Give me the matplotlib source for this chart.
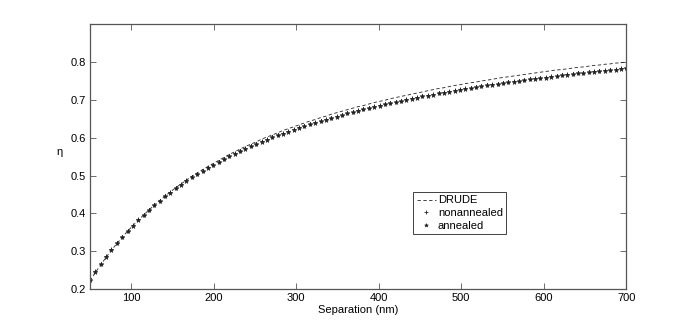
import numpy as np
import matplotlib
matplotlib.use('Agg')
import matplotlib.pyplot as plt

plt.rcParams['font.family'] = ['Liberation Sans', 'DejaVu Sans']

# separation in nm
separation = [50, 56.5, 63, 69.5, 76, 82.5, 89, 95.5, 102, 108.5, 115, 121.5, 128, 134.5,
              141, 147.5, 154, 160.5, 167, 173.5, 180, 186.5, 193, 199.5, 206, 212.5, 219,
              225.5, 232, 238.5, 245, 251.5, 258, 264.5, 271, 277.5, 284, 290.5, 297, 303.5,
              310, 316.5, 323, 329.5, 336, 342.5, 349, 355.5, 362, 368.5, 375, 381.5, 388,
              394.5, 401, 407.5, 414, 420.5, 427, 433.5, 440, 446.5, 453, 459.5, 466, 472.5,
              479, 485.5, 492, 498.5, 505, 511.5, 518, 524.5, 531, 537.5, 544, 550.5, 557,
              563.5, 570, 576.5, 583, 589.5, 596, 602.5, 609, 615.5, 622, 628.5, 635, 641.5,
              648, 654.5, 661, 667.5, 674, 680.5, 687, 693.5, 700]

# eta values, in thousandths
drude = [222, 244, 264, 284, 303, 320, 337, 353, 368, 382, 396, 409, 422, 434, 446, 457, 468,
         478, 488, 498, 507, 516, 524, 532, 540, 548, 556, 563, 570, 577, 583, 589, 596, 602,
         607, 613, 619, 624, 629, 634, 639, 644, 648, 653, 657, 662, 666, 670, 674, 678, 682,
         685, 689, 693, 696, 699, 703, 706, 709, 712, 715, 718, 721, 724, 727, 730, 732, 735,
         738, 740, 743, 745, 747, 750, 752, 754, 757, 759, 761, 763, 765, 767, 769, 771, 773,
         775, 777, 779, 780, 782, 784, 786, 787, 789, 791, 792, 794, 795, 797, 798, 800]

nonannealed = [225, 247, 267, 287, 305, 322, 339, 354, 369, 384, 397, 410, 422, 434, 446, 456,
               467, 477, 487, 496, 505, 513, 522, 529, 537, 545, 552, 559, 565, 572, 578, 584,
               590, 596, 602, 607, 612, 617, 622, 627, 632, 636, 641, 645, 649, 653, 657, 661,
               665, 669, 672, 676, 679, 683, 686, 689, 692, 695, 698, 701, 704, 707, 710, 712,
               715, 718, 720, 723, 725, 728, 730, 732, 735, 737, 739, 741, 743, 745, 747, 749,
               751, 753, 755, 757, 759, 760, 762, 764, 766, 767, 769, 771, 772, 774, 775, 777,
               778, 780, 781, 783, 784]

annealed = [224, 246, 266, 286, 304, 321, 338, 353, 368, 383, 396, 409, 421, 433, 445, 455,
            466, 476, 486, 495, 504, 512, 521, 528, 536, 544, 551, 558, 564, 571, 577, 583,
            589, 595, 601, 606, 611, 616, 621, 626, 631, 635, 640, 644, 648, 652, 656, 660,
            664, 668, 671, 675, 678, 682, 685, 688, 691, 694, 697, 700, 703, 706, 709, 711,
            714, 717, 719, 722, 724, 727, 729, 731, 734, 736, 738, 740, 742, 744, 746, 748,
            750, 752, 754, 756, 758, 759, 761, 763, 765, 766, 768, 770, 771, 773, 774, 776,
            777, 779, 780, 782, 783]

sep = np.array(separation)
fig = plt.figure(figsize=(6.92, 3.26), dpi=100)
ax = fig.add_axes([0.13, 0.113, 0.775, 0.813])

ax.plot(sep, np.array(drude) / 1000, '--', color='#222222', lw=0.6, dashes=(4, 3), label='DRUDE')
ax.plot(sep, np.array(nonannealed) / 1000, '+', color='#222222', ms=3.5, mew=0.6, label='nonannealed')
ax.plot(sep, np.array(annealed) / 1000, '*', color='#222222', ms=3.5, mew=0.4, label='annealed')

ax.set_xlim(50, 700)
ax.set_ylim(0.2, 0.9)
ax.set_xticks([100, 200, 300, 400, 500, 600, 700])
ax.set_yticks([0.2, 0.3, 0.4, 0.5, 0.6, 0.7, 0.8])
ax.tick_params(direction='in', length=4, width=0.6, colors='#555555', labelcolor='k',
               labelsize=8, top=True, right=True, pad=3)
for s in ax.spines.values():
    s.set_color('#555555')
    s.set_linewidth(0.9)

ax.set_xlabel('Separation (nm)', fontsize=8, labelpad=1)
ax.set_ylabel('η', fontsize=8, rotation=0, labelpad=8)

leg = ax.legend(loc='upper left', bbox_to_anchor=(0.603, 0.366), fontsize=8,
                fancybox=False, edgecolor='#222222', framealpha=1, handlelength=1.7,
                handletextpad=0.2, borderpad=0.3, labelspacing=0.25, borderaxespad=0,
                markerscale=0.8)
leg.get_frame().set_linewidth(0.6)

fig.savefig('out.png', dpi=100)
